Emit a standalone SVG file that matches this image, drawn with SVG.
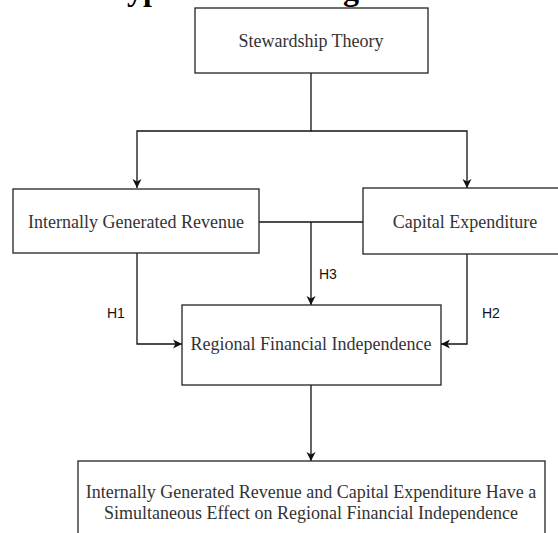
<svg xmlns="http://www.w3.org/2000/svg" width="558" height="533" viewBox="0 0 558 533">
<style>
.box{fill:#fff;stroke:#222;stroke-width:1.3}
.t{font-family:"Liberation Serif","Times New Roman",serif;font-size:18px;fill:#333;text-anchor:middle}
.h{font-family:"Liberation Sans",Arial,sans-serif;font-size:14px;fill:#111}
.c{fill:none;stroke:#111;stroke-width:1.3}
.title{font-family:"Liberation Serif","Times New Roman",serif;font-size:32px;font-weight:bold;fill:#000}
</style>
<defs>
<marker id="arr" markerUnits="userSpaceOnUse" markerWidth="12" markerHeight="12" refX="10" refY="6" orient="auto">
<path d="M1,1.5 L10,6 L1,10.5 L3.5,6 z" fill="#111"/>
</marker>
</defs>
<rect width="558" height="533" fill="#fff"/>
<text class="title" x="102" y="0">Hypothesis Testing</text>
<g id="connectors">
<path class="c" d="M311,73 V131 H137 V188" marker-end="url(#arr)"/>
<path class="c" d="M311,131 H467 V188" marker-end="url(#arr)"/>
<path class="c" d="M259,222 H363"/>
<path class="c" d="M311,222 V305" marker-end="url(#arr)"/>
<path class="c" d="M137,253 V344 H182" marker-end="url(#arr)"/>
<path class="c" d="M467,254 V344 H441" marker-end="url(#arr)"/>
<path class="c" d="M311,385 V461" marker-end="url(#arr)"/>
<text class="h" x="107" y="318">H1</text>
<text class="h" x="482" y="318">H2</text>
<text class="h" x="319" y="279">H3</text>
</g>
<g id="stewardship">
<rect class="box" x="195" y="8" width="233" height="65"/>
<text class="t" x="311" y="47">Stewardship Theory</text>
</g>
<g id="igr">
<rect class="box" x="13" y="189" width="246" height="64"/>
<text class="t" x="136" y="228">Internally Generated Revenue</text>
</g>
<g id="capex">
<rect class="box" x="363" y="188" width="205" height="66"/>
<text class="t" x="465" y="228">Capital Expenditure</text>
</g>
<g id="rfi">
<rect class="box" x="182" y="305" width="259" height="80"/>
<text class="t" x="311" y="350">Regional Financial Independence</text>
</g>
<g id="simultaneous">
<rect class="box" x="78" y="461" width="467" height="90"/>
<text class="t" x="311" y="498">Internally Generated Revenue and Capital Expenditure Have a</text>
<text class="t" x="311" y="519">Simultaneous Effect on Regional Financial Independence</text>
</g>
</svg>
